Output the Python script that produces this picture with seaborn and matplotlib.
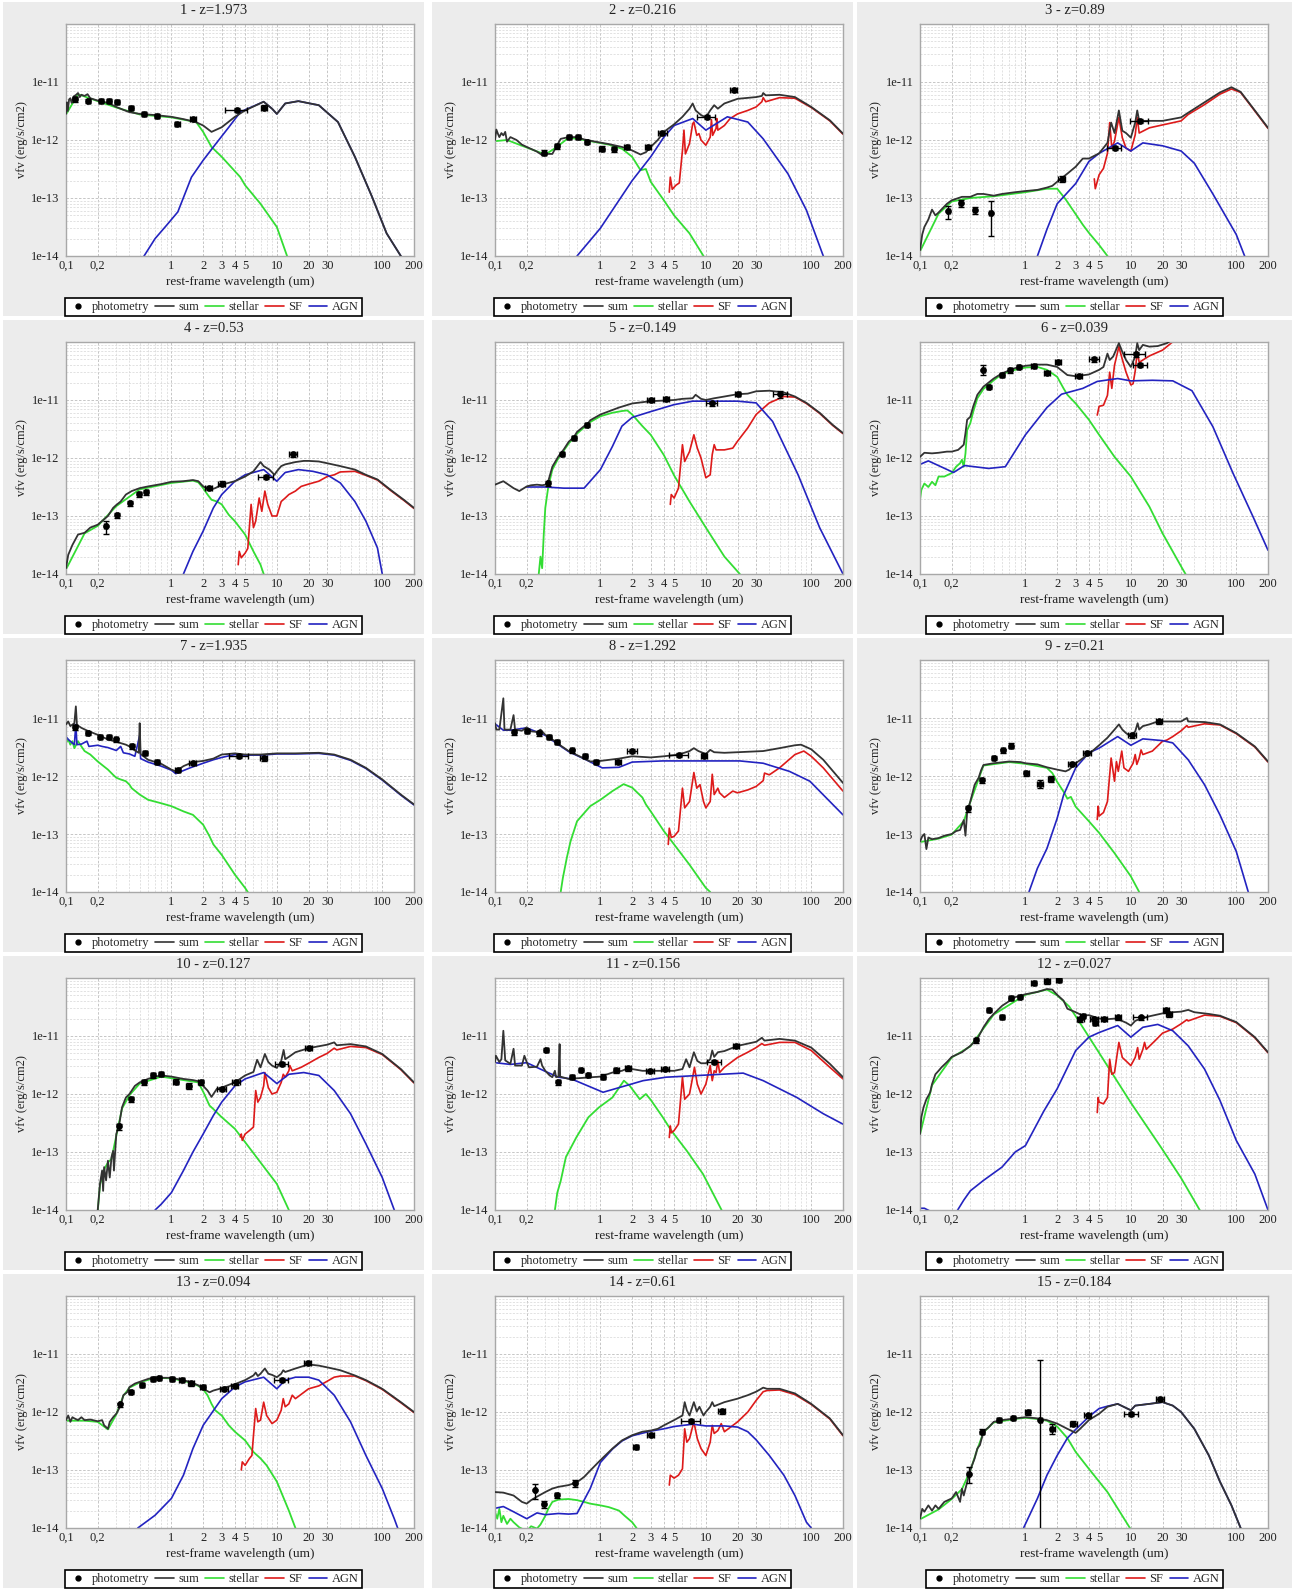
import numpy as np
import pandas as pd
import matplotlib
matplotlib.use("Agg")
import matplotlib.pyplot as plt
from matplotlib.lines import Line2D
from matplotlib.patches import Rectangle
from matplotlib.ticker import FixedLocator, FixedFormatter, NullFormatter, LogLocator
from matplotlib.transforms import Bbox, TransformedBbox
import seaborn as sns

sns.set_theme(style="white")
plt.rcParams["font.family"] = ["Liberation Serif", "DejaVu Serif"]

# ---------------------------------------------------------------------------
# Sources and redshifts
PANEL_IDS = list(range(1, 16))
REDSHIFTS = ["1.973", "0.216", "0.89", "0.53", "0.149", "0.039", "1.935", "1.292",
             "0.21", "0.127", "0.156", "0.027", "0.094", "0.61", "0.184"]

XTICKS = [0.1, 0.2, 1, 2, 3, 4, 5, 10, 20, 30, 100, 200]
XTICK_LABELS = ["0,1", "0,2", "1", "2", "3", "4", "5", "10", "20", "30", "100", "200"]
YTICKS = [1e-14, 1e-13, 1e-12, 1e-11]
YTICK_LABELS = ["1e-14", "1e-13", "1e-12", "1e-11"]
LEGEND_LABELS = ["photometry", "sum", "stellar", "SF", "AGN"]

# Model curves: (rest-frame wavelength [um], log10 vFv [erg/s/cm2])
# Photometry: (wavelength, log10 vFv, relative x error, relative y error)

# --- 1 ---------------------------------------------------------------------
P1_SUM = [(0.1, -11.55), (0.102, -11.35), (0.104, -11.5), (0.107, -11.3), (0.11, -11.28), (0.113, -11.36),
          (0.118, -11.25), (0.125, -11.22), (0.13, -11.19), (0.135, -11.26), (0.14, -11.22), (0.15, -11.24),
          (0.16, -11.21), (0.17, -11.28), (0.2, -11.32), (0.25, -11.36), (0.3, -11.43), (0.35, -11.48),
          (0.4, -11.52), (0.5, -11.55), (0.7, -11.57), (1.0, -11.6), (1.3, -11.64), (1.7, -11.69),
          (2.0, -11.75), (2.4, -11.86), (3.0, -11.78), (4.0, -11.6), (5.0, -11.49), (7.5, -11.34),
          (9.0, -11.46), (10, -11.55), (12, -11.37), (16, -11.33), (25, -11.4), (38, -11.69),
          (55, -12.29), (80, -12.98), (110, -13.61), (150, -14.0), (170, -14.3)]
P1_STELLAR = [(0.1, -11.56), (0.13, -11.21), (0.2, -11.33), (0.3, -11.44), (0.5, -11.56), (1.0, -11.61),
              (1.5, -11.67), (1.7, -11.68), (2.0, -11.86), (2.4, -12.12), (3.0, -12.29), (4.5, -12.64),
              (5.0, -12.78), (7.0, -13.1), (10, -13.5), (12.5, -14.0), (14, -14.2)]
P1_SF = []
P1_AGN = [(0.5, -14.1), (0.55, -14.0), (0.7, -13.7), (0.9, -13.47), (1.15, -13.24), (1.55, -12.64),
          (2.0, -12.35), (2.5, -12.12), (3.5, -11.78), (4.5, -11.52), (5.0, -11.48), (7.5, -11.34),
          (9.0, -11.46), (10, -11.55), (12, -11.37), (16, -11.33), (25, -11.4), (38, -11.69),
          (55, -12.29), (80, -12.98), (110, -13.61), (150, -14.0)]
P1_PHOT = [(0.122, -11.30, 0.04, 0.08), (0.163, -11.33, 0.04, 0.08), (0.214, -11.32, 0.04, 0.08),
           (0.257, -11.32, 0.04, 0.08), (0.304, -11.34, 0.04, 0.08), (0.413, -11.44, 0.04, 0.08),
           (0.553, -11.55, 0.04, 0.08), (0.73, -11.58, 0.04, 0.08), (1.14, -11.73, 0.05, 0.08),
           (1.6, -11.63, 0.07, 0.08), (4.2, -11.48, 0.23, 0.08), (7.6, -11.44, 0.07, 0.1)]

# --- 2 ---------------------------------------------------------------------
P2_SUM = [(0.1, -12.0), (0.103, -11.82), (0.107, -11.9), (0.11, -11.95), (0.115, -11.88), (0.12, -11.92),
          (0.125, -11.86), (0.13, -12.03), (0.14, -11.95), (0.16, -12.0), (0.18, -12.08), (0.2, -12.12),
          (0.25, -12.2), (0.28, -12.26), (0.3, -12.24), (0.35, -12.24), (0.38, -12.12), (0.42, -11.98),
          (0.5, -11.95), (0.6, -11.95), (0.7, -11.99), (0.9, -12.03), (1.2, -12.07), (1.6, -12.12),
          (2.0, -12.18), (2.4, -12.25), (2.7, -12.21), (3.0, -12.12), (3.5, -12.0), (4.0, -11.86),
          (5.0, -11.73), (6.0, -11.6), (7.0, -11.46), (7.5, -11.37), (8.0, -11.49), (9.0, -11.57),
          (10, -11.61), (11, -11.49), (12, -11.4), (13, -11.46), (15, -11.37), (20, -11.29), (30, -11.26),
          (34, -11.24), (35, -11.19), (37, -11.23), (50, -11.22), (70, -11.26), (100, -11.43),
          (150, -11.66), (200, -11.89)]
P2_STELLAR = [(0.1, -12.02), (0.13, -12.0), (0.2, -12.13), (0.3, -12.25), (0.38, -12.13), (0.5, -11.96),
              (0.7, -12.0), (1.2, -12.08), (1.6, -12.15), (2.0, -12.29), (2.4, -12.52), (2.7, -12.5),
              (3.0, -12.72), (4.0, -13.04), (5.0, -13.3), (7.0, -13.61), (9.5, -14.0), (11, -14.2)]
P2_SF = [(4.5, -12.9), (4.6, -12.64), (4.8, -12.85), (5.2, -12.78), (5.6, -12.74), (6.0, -12.18),
         (6.2, -11.83), (6.4, -12.24), (7.0, -12.06), (7.5, -11.72), (7.7, -11.69), (8.2, -11.92),
         (8.6, -11.89), (9.0, -12.0), (10, -12.09), (11, -11.95), (11.3, -11.65), (11.6, -11.92),
         (12.5, -11.8), (12.7, -11.63), (13, -11.83), (15, -11.75), (17, -11.63), (20, -11.55),
         (25, -11.49), (30, -11.43), (34, -11.34), (35, -11.27), (37, -11.34), (50, -11.27),
         (70, -11.28), (100, -11.44), (150, -11.67), (200, -11.9)]
P2_AGN = [(0.6, -14.0), (0.8, -13.73), (1.0, -13.52), (1.5, -13.04), (2.0, -12.7), (3.0, -12.29),
          (4.0, -11.95), (5.0, -11.75), (7.5, -11.63), (10, -11.83), (16, -11.6), (25, -11.69),
          (35, -11.98), (60, -12.58), (90, -13.21), (130, -14.0), (150, -14.3)]
P2_PHOT = [(0.292, -12.22, 0.04, 0.1), (0.385, -12.11, 0.04, 0.1), (0.506, -11.95, 0.04, 0.08),
           (0.614, -11.95, 0.04, 0.08), (0.741, -12.03, 0.04, 0.08), (1.03, -12.15, 0.05, 0.1),
           (1.35, -12.16, 0.05, 0.1), (1.77, -12.12, 0.06, 0.08), (2.85, -12.12, 0.07, 0.08),
           (3.87, -11.88, 0.1, 0.08), (10.2, -11.6, 0.2, 0.08), (18.3, -11.14, 0.07, 0.08)]

# --- 3 ---------------------------------------------------------------------
P3_SUM = [(0.1, -13.9), (0.105, -13.63), (0.11, -13.5), (0.12, -13.37), (0.13, -13.2), (0.14, -13.3),
          (0.15, -13.25), (0.18, -13.1), (0.2, -13.04), (0.25, -12.98), (0.3, -12.98), (0.35, -12.93),
          (0.4, -12.93), (0.5, -12.96), (0.6, -12.93), (0.8, -12.9), (1.0, -12.88), (1.3, -12.86),
          (1.6, -12.82), (1.8, -12.79), (2.0, -12.72), (2.5, -12.58), (3.0, -12.46), (3.5, -12.32),
          (4.0, -12.32), (5.0, -12.23), (6.0, -12.05), (6.5, -11.7), (7.0, -11.88), (7.7, -11.49),
          (8.3, -11.84), (9.0, -11.88), (10, -11.96), (11, -11.7), (11.5, -11.49), (12, -11.67),
          (15, -11.67), (20, -11.67), (30, -11.61), (35, -11.53), (50, -11.35), (70, -11.18),
          (90, -11.09), (110, -11.17), (150, -11.49), (200, -11.79)]
P3_STELLAR = [(0.1, -13.92), (0.15, -13.27), (0.2, -13.06), (0.3, -13.0), (0.5, -12.97), (1.0, -12.9),
              (1.6, -12.84), (2.0, -12.84), (2.4, -13.02), (3.0, -13.28), (3.5, -13.46), (4.0, -13.6),
              (5.0, -13.81), (6.0, -14.0), (7.0, -14.2)]
P3_SF = [(4.5, -12.67), (4.6, -12.84), (5.0, -12.6), (5.5, -12.49), (6.0, -12.23), (6.3, -11.7),
         (6.6, -12.14), (7.0, -12.02), (7.7, -11.61), (8.3, -11.96), (9.0, -12.14), (10, -12.19),
         (11, -11.91), (11.5, -11.61), (12, -11.88), (15, -11.79), (20, -11.74), (30, -11.67),
         (35, -11.56), (50, -11.39), (70, -11.21), (90, -11.12), (110, -11.18), (150, -11.5), (200, -11.8)]
P3_AGN = [(1.3, -14.0), (1.6, -13.54), (2.0, -13.1), (3.0, -12.75), (4.0, -12.37), (5.0, -12.23),
          (7.5, -12.05), (10, -12.19), (13, -12.05), (20, -12.1), (30, -12.19), (40, -12.4),
          (60, -12.93), (100, -13.63), (120, -14.0), (140, -14.3)]
P3_PHOT = [(0.186, -13.23, 0.04, 0.25), (0.243, -13.09, 0.04, 0.15), (0.33, -13.21, 0.04, 0.15),
           (0.47, -13.25, 0.03, 0.6), (2.2, -12.67, 0.07, 0.1), (7.0, -12.14, 0.15, 0.08),
           (12.2, -11.67, 0.2, 0.08)]

# --- 4 ---------------------------------------------------------------------
P4_SUM = [(0.1, -13.9), (0.105, -13.67), (0.115, -13.5), (0.13, -13.32), (0.15, -13.29), (0.17, -13.2),
          (0.2, -13.15), (0.25, -13.0), (0.28, -12.86), (0.3, -12.81), (0.33, -12.75), (0.37, -12.63),
          (0.42, -12.57), (0.5, -12.52), (0.6, -12.49), (0.8, -12.45), (1.0, -12.41), (1.3, -12.4),
          (1.6, -12.38), (1.8, -12.4), (2.0, -12.49), (2.3, -12.55), (2.6, -12.52), (3.0, -12.46),
          (4.0, -12.4), (5.0, -12.32), (6.0, -12.23), (7.0, -12.07), (7.5, -12.14), (8.5, -12.2),
          (9.5, -12.29), (10, -12.23), (11, -12.14), (12, -12.11), (15, -12.07), (18, -12.05),
          (20, -12.05), (25, -12.06), (30, -12.09), (40, -12.14), (55, -12.2), (70, -12.29),
          (90, -12.37), (120, -12.55), (160, -12.72), (200, -12.86)]
P4_STELLAR = [(0.1, -13.92), (0.15, -13.3), (0.2, -13.17), (0.3, -12.83), (0.5, -12.54), (1.0, -12.43),
              (1.6, -12.39), (1.8, -12.42), (2.0, -12.52), (2.2, -12.63), (2.4, -12.72), (2.7, -12.75),
              (3.0, -12.8), (3.5, -12.98), (4.0, -13.09), (5.0, -13.32), (6.0, -13.61), (7.0, -13.84),
              (7.5, -14.0), (8.0, -14.2)]
P4_SF = [(4.3, -13.84), (4.4, -13.61), (4.6, -13.72), (5.0, -13.64), (5.3, -13.56), (5.7, -12.8),
         (6.0, -13.2), (6.3, -13.09), (6.8, -12.69), (7.2, -12.92), (7.7, -12.57), (8.2, -12.8),
         (9.0, -13.0), (10, -13.0), (11, -12.75), (12, -12.69), (13, -12.63), (15, -12.57), (17, -12.49),
         (20, -12.45), (25, -12.4), (30, -12.32), (35, -12.29), (40, -12.24), (55, -12.23), (70, -12.3),
         (90, -12.38), (120, -12.56), (160, -12.73), (200, -12.87)]
P4_AGN = [(1.3, -14.0), (1.6, -13.61), (2.0, -13.26), (2.5, -12.86), (3.0, -12.63), (4.0, -12.4),
          (5.0, -12.29), (7.5, -12.2), (10, -12.4), (12, -12.25), (16, -12.2), (22, -12.23), (30, -12.29),
          (40, -12.43), (55, -12.75), (70, -13.09), (90, -13.55), (100, -14.0), (110, -14.3)]
P4_PHOT = [(0.237, -13.18, 0.03, 0.25), (0.304, -12.99, 0.03, 0.08), (0.405, -12.78, 0.03, 0.1),
           (0.497, -12.62, 0.04, 0.1), (0.58, -12.59, 0.04, 0.1), (2.25, -12.52, 0.07, 0.08),
           (3.0, -12.44, 0.08, 0.1), (7.9, -12.33, 0.17, 0.08), (14.3, -11.93, 0.08, 0.1)]

# --- 5 ---------------------------------------------------------------------
P5_SUM = [(0.1, -12.46), (0.12, -12.4), (0.15, -12.52), (0.17, -12.57), (0.2, -12.49), (0.22, -12.47),
          (0.25, -12.46), (0.28, -12.47), (0.3, -12.46), (0.32, -12.4), (0.35, -12.15), (0.4, -11.97),
          (0.45, -11.85), (0.5, -11.72), (0.56, -11.64), (0.6, -11.55), (0.7, -11.45), (0.75, -11.42),
          (0.8, -11.35), (1.0, -11.25), (1.5, -11.13), (2.0, -11.06), (3.0, -11.02), (4.0, -11.01),
          (5.0, -11.0), (6.0, -10.98), (7.5, -10.97), (8.0, -10.91), (9.0, -10.98), (10, -11.0),
          (12, -10.97), (15, -10.94), (20, -10.9), (25, -10.89), (30, -10.85), (40, -10.84),
          (55, -10.87), (70, -10.94), (90, -11.05), (120, -11.22), (160, -11.43), (200, -11.57)]
P5_STELLAR = [(0.26, -14.0), (0.27, -13.7), (0.28, -13.9), (0.29, -13.32), (0.3, -12.86), (0.32, -12.5),
              (0.35, -12.2), (0.4, -12.0), (0.45, -11.87), (0.5, -11.75), (0.6, -11.58), (0.8, -11.38),
              (1.0, -11.28), (1.3, -11.22), (1.6, -11.19), (1.8, -11.18), (2.0, -11.25), (2.5, -11.45),
              (3.0, -11.6), (4.0, -11.95), (5.0, -12.3), (7.0, -12.75), (10, -13.2), (15, -13.7),
              (21, -14.0), (23, -14.2)]
P5_SF = [(4.6, -12.8), (4.7, -12.63), (5.0, -12.69), (5.5, -12.52), (6.0, -11.77), (6.3, -12.06),
         (7.0, -11.89), (7.7, -11.6), (8.3, -11.83), (9.0, -12.0), (10, -12.34), (11, -12.29),
         (11.5, -11.94), (12, -11.77), (12.5, -11.86), (15, -11.86), (18, -11.83), (20, -11.71),
         (25, -11.48), (30, -11.25), (40, -11.05), (55, -10.94), (70, -10.95), (90, -11.06),
         (120, -11.23), (160, -11.44), (200, -11.58)]
P5_AGN = [(0.2, -12.5), (0.3, -12.5), (0.45, -12.52), (0.7, -12.52), (1.0, -12.2), (1.3, -11.8),
          (1.6, -11.45), (2.0, -11.3), (3.0, -11.2), (5.0, -11.08), (7.5, -11.02), (10, -11.02),
          (15, -11.02), (20, -11.02), (30, -11.05), (43, -11.37), (75, -12.29), (120, -13.2), (200, -14.0)]
P5_PHOT = [(0.318, -12.43, 0.03, 0.1), (0.436, -11.93, 0.03, 0.08), (0.56, -11.66, 0.04, 0.08),
           (0.74, -11.43, 0.04, 0.08), (2.99, -11.0, 0.07, 0.08), (4.2, -10.98, 0.07, 0.08),
           (11.4, -11.06, 0.12, 0.08), (20, -10.9, 0.06, 0.08), (51, -10.9, 0.15, 0.15)]

# --- 6 ---------------------------------------------------------------------
P6_SUM = [(0.1, -11.98), (0.11, -11.91), (0.13, -11.92), (0.15, -11.91), (0.18, -11.89), (0.2, -11.89),
          (0.23, -11.86), (0.25, -11.8), (0.26, -11.77), (0.27, -11.57), (0.28, -11.34), (0.3, -11.29),
          (0.32, -11.11), (0.35, -10.91), (0.4, -10.77), (0.5, -10.63), (0.6, -10.54), (0.8, -10.45),
          (1.0, -10.41), (1.3, -10.39), (1.6, -10.39), (2.0, -10.43), (2.5, -10.57), (3.0, -10.59),
          (4.0, -10.56), (5.0, -10.48), (5.5, -10.43), (6.0, -10.2), (6.3, -10.31), (6.8, -10.25),
          (7.7, -10.02), (8.3, -10.17), (9.0, -10.31), (10, -10.43), (11, -10.25), (11.5, -10.02),
          (12, -10.14), (13, -10.05), (15, -10.08), (18, -10.07), (22, -10.02), (30, -9.85),
          (50, -9.67), (100, -9.7), (200, -9.97)]
P6_STELLAR = [(0.1, -12.72), (0.103, -12.55), (0.11, -12.44), (0.12, -12.5), (0.13, -12.41), (0.14, -12.47),
              (0.15, -12.32), (0.17, -12.32), (0.2, -12.26), (0.22, -12.15), (0.24, -12.09), (0.25, -12.03),
              (0.26, -12.15), (0.27, -11.92), (0.28, -11.52), (0.3, -11.4), (0.32, -11.2), (0.35, -10.97),
              (0.4, -10.81), (0.5, -10.66), (0.6, -10.55), (0.8, -10.48), (1.0, -10.44), (1.3, -10.43),
              (1.6, -10.48), (2.0, -10.6), (2.3, -10.8), (2.5, -10.91), (3.0, -11.06), (4.0, -11.34),
              (5.0, -11.6), (7.0, -11.98), (10, -12.32), (15, -12.84), (20, -13.3), (30, -13.87),
              (33, -14.0), (36, -14.2)]
P6_SF = [(4.8, -11.26), (5.0, -11.11), (5.5, -11.09), (6.0, -10.92), (6.3, -10.52), (6.6, -10.8),
         (7.0, -10.4), (7.7, -10.08), (8.3, -10.3), (9.0, -10.52), (10, -10.74), (10.5, -10.72),
         (11, -10.5), (11.5, -10.17), (12, -10.35), (15, -10.24), (20, -10.14), (23, -10.05),
         (30, -9.88), (50, -9.7), (100, -9.72), (200, -9.98)]
P6_AGN = [(0.1, -12.11), (0.12, -12.05), (0.208, -12.25), (0.264, -12.13), (0.448, -12.18), (0.645, -12.15),
          (1.0, -11.6), (1.6, -11.13), (2.2, -10.9), (3.5, -10.8), (4.8, -10.68), (7.5, -10.63),
          (10, -10.67), (16, -10.66), (25, -10.67), (38, -10.84), (60, -11.46), (93, -12.26),
          (144, -13.01), (200, -13.59)]
P6_PHOT = [(0.4, -10.48, 0.03, 0.2), (0.45, -10.77, 0.03, 0.08), (0.6, -10.57, 0.04, 0.08),
           (0.72, -10.49, 0.04, 0.08), (0.86, -10.43, 0.04, 0.08), (1.2, -10.41, 0.05, 0.08),
           (1.6, -10.54, 0.06, 0.08), (2.05, -10.34, 0.06, 0.08), (3.2, -10.59, 0.08, 0.08),
           (4.5, -10.3, 0.1, 0.08), (11.1, -10.21, 0.22, 0.1), (12.3, -10.39, 0.15, 0.08)]

# --- 7 ---------------------------------------------------------------------
P7_SUM = [(0.1, -11.11), (0.105, -11.06), (0.11, -11.14), (0.12, -11.09), (0.124, -10.8), (0.127, -11.12),
          (0.14, -11.17), (0.16, -11.22), (0.2, -11.29), (0.25, -11.37), (0.3, -11.41), (0.37, -11.46),
          (0.4, -11.49), (0.45, -11.56), (0.49, -11.6), (0.5, -11.09), (0.51, -11.62), (0.6, -11.72),
          (0.8, -11.79), (1.0, -11.89), (1.1, -11.92), (1.3, -11.83), (1.6, -11.76), (2.0, -11.74),
          (2.5, -11.7), (3.0, -11.63), (4.0, -11.61), (5.0, -11.63), (7.0, -11.63), (10, -11.61),
          (15, -11.61), (25, -11.6), (35, -11.63), (50, -11.72), (70, -11.86), (100, -12.06),
          (150, -12.32), (200, -12.49)]
P7_STELLAR = [(0.1, -11.43), (0.105, -11.37), (0.11, -11.46), (0.115, -11.4), (0.12, -11.52), (0.13, -11.4),
              (0.14, -11.49), (0.15, -11.57), (0.17, -11.63), (0.2, -11.75), (0.25, -11.89), (0.28, -11.98),
              (0.3, -12.03), (0.33, -12.06), (0.37, -12.09), (0.4, -12.15), (0.42, -12.21), (0.5, -12.32),
              (0.6, -12.41), (0.8, -12.47), (1.0, -12.52), (1.3, -12.61), (1.6, -12.67), (2.0, -12.84),
              (2.3, -13.04), (2.5, -13.18), (3.0, -13.36), (4.0, -13.7), (5.0, -13.93), (5.3, -14.0),
              (6.0, -14.2)]
P7_SF = []
P7_AGN = [(0.1, -11.32), (0.105, -11.37), (0.12, -11.46), (0.124, -11.11), (0.127, -11.46), (0.14, -11.45),
          (0.158, -11.4), (0.165, -11.49), (0.2, -11.47), (0.22, -11.49), (0.25, -11.51), (0.3, -11.56),
          (0.33, -11.49), (0.35, -11.6), (0.4, -11.62), (0.45, -11.66), (0.5, -11.3), (0.51, -11.7),
          (0.6, -11.76), (0.8, -11.83), (1.0, -11.9), (1.1, -11.96), (1.5, -11.86), (2.0, -11.78),
          (2.5, -11.72), (3.0, -11.68), (4.0, -11.63), (5.0, -11.64), (7.0, -11.64), (10, -11.62),
          (15, -11.62), (25, -11.61), (35, -11.64), (50, -11.73), (70, -11.87), (100, -12.07),
          (150, -12.33), (200, -12.5)]
P7_PHOT = [(0.121, -11.16, 0.04, 0.1), (0.16, -11.25, 0.04, 0.08), (0.212, -11.32, 0.04, 0.08),
           (0.256, -11.33, 0.04, 0.08), (0.3, -11.37, 0.04, 0.08), (0.42, -11.49, 0.04, 0.08),
           (0.566, -11.61, 0.04, 0.08), (0.73, -11.75, 0.04, 0.08), (1.15, -11.9, 0.05, 0.08),
           (1.6, -11.78, 0.08, 0.08), (4.4, -11.65, 0.2, 0.08), (7.5, -11.69, 0.07, 0.1)]

# --- 8 ---------------------------------------------------------------------
P8_SUM = [(0.1, -11.09), (0.103, -11.2), (0.11, -11.2), (0.12, -10.66), (0.123, -11.2), (0.14, -11.2),
          (0.15, -10.95), (0.155, -11.2), (0.18, -11.22), (0.2, -11.16), (0.22, -11.23), (0.25, -11.24),
          (0.27, -11.2), (0.3, -11.29), (0.35, -11.37), (0.4, -11.45), (0.5, -11.57), (0.6, -11.64),
          (0.8, -11.75), (1.0, -11.74), (1.5, -11.7), (2.0, -11.66), (3.0, -11.68), (4.0, -11.66),
          (5.0, -11.64), (6.0, -11.61), (7.0, -11.57), (7.7, -11.52), (8.5, -11.57), (10, -11.62),
          (11, -11.55), (12, -11.59), (15, -11.6), (20, -11.59), (35, -11.57), (50, -11.52),
          (70, -11.47), (80, -11.46), (100, -11.54), (130, -11.72), (200, -12.12)]
P8_STELLAR = [(0.42, -14.0), (0.44, -13.76), (0.48, -13.41), (0.52, -13.13), (0.6, -12.78), (0.8, -12.52),
              (1.0, -12.41), (1.3, -12.26), (1.66, -12.14), (2.0, -12.2), (2.5, -12.37), (2.7, -12.49),
              (3.0, -12.61), (4.0, -12.95), (5.0, -13.18), (7.0, -13.53), (10, -13.93), (11, -14.0),
              (12, -14.2)]
P8_SF = [(4.4, -13.18), (4.5, -12.9), (4.7, -13.06), (5.0, -13.04), (5.5, -12.95), (6.0, -12.21),
         (6.3, -12.55), (7.0, -12.44), (7.7, -11.94), (8.2, -12.21), (8.8, -12.15), (9.5, -12.44),
         (10, -12.55), (11, -12.44), (11.5, -11.97), (12, -12.32), (13, -12.21), (13.5, -12.29),
         (15, -12.37), (18, -12.26), (20, -12.29), (25, -12.24), (30, -12.18), (35, -12.08),
         (36, -11.95), (40, -11.98), (50, -11.86), (70, -11.63), (85, -11.57), (100, -11.66),
         (130, -11.86), (200, -12.26)]
P8_AGN = [(0.1, -11.1), (0.12, -11.21), (0.14, -11.21), (0.2, -11.17), (0.3, -11.3), (0.4, -11.46),
          (0.5, -11.58), (0.73, -11.72), (1.04, -11.86), (1.5, -11.85), (2.0, -11.76), (3.9, -11.74),
          (21, -11.74), (35, -11.78), (62, -11.92), (97, -12.09), (200, -12.67)]
P8_PHOT = [(0.153, -11.24, 0.04, 0.1), (0.2, -11.22, 0.04, 0.08), (0.264, -11.26, 0.04, 0.1),
           (0.324, -11.32, 0.04, 0.08), (0.39, -11.42, 0.04, 0.08), (0.54, -11.56, 0.04, 0.08),
           (0.71, -11.66, 0.04, 0.08), (0.91, -11.76, 0.05, 0.08), (1.47, -11.75, 0.07, 0.08),
           (2.0, -11.57, 0.1, 0.08), (5.6, -11.64, 0.2, 0.08), (9.6, -11.65, 0.07, 0.1)]

# --- 9 ---------------------------------------------------------------------
P9_SUM = [(0.1, -13.13), (0.105, -13.04), (0.11, -13.0), (0.115, -13.26), (0.12, -13.06), (0.13, -13.09),
          (0.15, -13.07), (0.17, -13.03), (0.2, -13.0), (0.22, -12.95), (0.24, -12.93), (0.26, -12.76),
          (0.27, -13.03), (0.28, -12.62), (0.3, -12.44), (0.33, -12.15), (0.36, -12.03), (0.38, -11.9),
          (0.4, -11.81), (0.5, -11.78), (0.7, -11.75), (0.9, -11.76), (1.0, -11.78), (1.3, -11.8),
          (1.6, -11.85), (2.0, -11.89), (2.4, -11.92), (2.6, -11.89), (3.0, -11.78), (4.0, -11.62),
          (5.0, -11.47), (6.0, -11.34), (7.0, -11.2), (7.7, -11.11), (8.3, -11.2), (9.0, -11.26),
          (10, -11.32), (11, -11.23), (11.6, -11.09), (12, -11.2), (13, -11.14), (15, -11.11),
          (18, -11.06), (25, -11.06), (30, -11.06), (34, -11.0), (35, -11.06), (50, -11.07),
          (70, -11.11), (100, -11.26), (150, -11.49), (200, -11.75)]
P9_STELLAR = [(0.1, -13.14), (0.15, -13.08), (0.2, -13.01), (0.26, -12.78), (0.3, -12.45), (0.4, -11.82),
              (0.7, -11.76), (1.0, -11.79), (1.6, -11.86), (1.8, -11.95), (2.0, -12.1), (2.3, -12.27),
              (2.5, -12.39), (2.7, -12.36), (3.0, -12.53), (4.0, -12.78), (5.0, -12.98), (7.0, -13.33),
              (10, -13.73), (12, -14.0), (13, -14.2)]
P9_SF = [(4.8, -12.75), (4.9, -12.52), (5.0, -12.69), (5.5, -12.63), (6.0, -12.44), (6.5, -11.69),
         (7.0, -12.09), (7.3, -11.75), (7.6, -11.92), (8.2, -11.57), (8.6, -11.86), (9.5, -11.92),
         (10.5, -11.78), (11, -11.63), (11.4, -11.8), (12, -11.69), (12.5, -11.55), (13, -11.63),
         (16, -11.57), (20, -11.4), (22, -11.38), (25, -11.32), (30, -11.22), (34, -11.13),
         (35, -11.16), (50, -11.1), (70, -11.12), (100, -11.27), (150, -11.5), (200, -11.76)]
P9_AGN = [(1.08, -14.0), (1.3, -13.59), (1.6, -13.25), (2.0, -12.73), (2.3, -12.33), (3.0, -11.86),
          (4.0, -11.6), (5.0, -11.52), (7.5, -11.32), (10, -11.47), (13, -11.36), (20, -11.39),
          (25, -11.43), (35, -11.72), (50, -12.15), (70, -12.67), (100, -13.3), (130, -14.0), (150, -14.3)]
P9_PHOT = [(0.288, -12.56, 0.03, 0.12), (0.386, -12.07, 0.03, 0.1), (0.5, -11.69, 0.04, 0.08),
           (0.612, -11.56, 0.04, 0.08), (0.735, -11.48, 0.04, 0.1), (1.02, -11.95, 0.05, 0.1),
           (1.37, -12.13, 0.07, 0.17), (1.73, -12.05, 0.06, 0.12), (2.78, -11.79, 0.08, 0.08),
           (3.86, -11.61, 0.09, 0.08), (10.3, -11.3, 0.08, 0.08), (18.6, -11.06, 0.07, 0.08)]

# --- 10 --------------------------------------------------------------------
P10_SUM = [(0.19, -14.2), (0.2, -14.0), (0.21, -13.55), (0.22, -13.32), (0.225, -13.67), (0.23, -13.26),
           (0.24, -13.49), (0.25, -13.15), (0.26, -13.44), (0.27, -13.09), (0.28, -12.98), (0.285, -13.32),
           (0.3, -12.69), (0.32, -12.52), (0.34, -12.23), (0.37, -12.06), (0.4, -12.0), (0.45, -11.86),
           (0.5, -11.8), (0.6, -11.74), (0.7, -11.7), (0.8, -11.68), (1.0, -11.7), (1.3, -11.74),
           (1.6, -11.76), (1.8, -11.78), (2.0, -11.86), (2.2, -11.94), (2.4, -12.05), (2.7, -11.91),
           (3.0, -11.89), (4.0, -11.8), (5.0, -11.68), (6.0, -11.62), (6.5, -11.41), (7.0, -11.54),
           (7.7, -11.31), (8.3, -11.45), (9.0, -11.51), (10, -11.55), (11, -11.43), (11.6, -11.24),
           (12, -11.4), (13, -11.36), (15, -11.28), (20, -11.21), (30, -11.15), (35, -11.11),
           (37, -11.16), (50, -11.14), (70, -11.18), (100, -11.31), (150, -11.57), (200, -11.8)]
P10_STELLAR = [(0.19, -14.2), (0.2, -14.02), (0.21, -13.57), (0.23, -13.3), (0.25, -13.18), (0.27, -13.12),
               (0.3, -12.72), (0.34, -12.25), (0.4, -12.02), (0.5, -11.82), (0.8, -11.7), (1.3, -11.76),
               (1.8, -11.8), (2.0, -11.96), (2.3, -12.2), (2.5, -12.26), (3.0, -12.4), (4.0, -12.6),
               (5.0, -12.83), (7.0, -13.18), (10, -13.55), (13, -14.0), (14, -14.2)]
P10_SF = [(4.5, -12.74), (4.6, -12.69), (4.7, -12.8), (5.0, -12.69), (5.5, -12.63), (6.0, -12.57),
          (6.3, -11.94), (6.6, -12.14), (7.0, -12.06), (7.5, -11.86), (7.7, -11.63), (8.3, -11.89),
          (9.0, -12.0), (10, -11.97), (11, -11.8), (11.5, -11.66), (12, -11.71), (13, -11.6),
          (13.3, -11.51), (14, -11.6), (17, -11.54), (20, -11.47), (25, -11.37), (30, -11.3),
          (35, -11.21), (37, -11.24), (50, -11.18), (70, -11.2), (100, -11.32), (150, -11.58), (200, -11.81)]
P10_AGN = [(0.7, -14.0), (0.8, -13.9), (1.0, -13.7), (1.3, -13.32), (1.6, -13.0), (2.0, -12.69),
           (2.5, -12.37), (3.0, -12.14), (4.0, -11.86), (5.0, -11.74), (7.5, -11.63), (10, -11.82),
           (13, -11.66), (18, -11.63), (25, -11.68), (35, -11.94), (50, -12.34), (70, -12.86),
           (100, -13.44), (130, -14.0), (150, -14.3)]
P10_PHOT = [(0.316, -12.56, 0.03, 0.12), (0.417, -12.09, 0.03, 0.1), (0.55, -11.8, 0.04, 0.08),
            (0.67, -11.68, 0.04, 0.1), (0.8, -11.66, 0.04, 0.08), (1.1, -11.79, 0.05, 0.1),
            (1.46, -11.86, 0.06, 0.1), (1.9, -11.8, 0.06, 0.1), (3.0, -11.91, 0.1, 0.08),
            (4.1, -11.8, 0.08, 0.08), (11.2, -11.48, 0.15, 0.08), (20, -11.2, 0.07, 0.08)]

# --- 11 --------------------------------------------------------------------
P11_SUM = [(0.1, -11.45), (0.102, -11.34), (0.11, -11.45), (0.115, -11.4), (0.12, -10.91), (0.125, -11.42),
           (0.14, -11.48), (0.15, -11.22), (0.155, -11.51), (0.18, -11.51), (0.19, -11.34), (0.2, -11.45),
           (0.21, -11.54), (0.25, -11.53), (0.27, -11.4), (0.28, -11.51), (0.3, -11.6), (0.33, -11.68),
           (0.35, -11.71), (0.37, -11.6), (0.38, -11.71), (0.4, -11.7), (0.41, -11.14), (0.415, -11.7),
           (0.5, -11.74), (0.7, -11.72), (1.0, -11.7), (1.3, -11.63), (1.6, -11.6), (1.8, -11.56),
           (2.0, -11.57), (2.5, -11.6), (3.0, -11.6), (4.0, -11.6), (5.0, -11.6), (6.0, -11.57),
           (6.5, -11.4), (7.0, -11.54), (7.7, -11.28), (8.3, -11.43), (9.0, -11.47), (10, -11.47),
           (11, -11.4), (11.5, -11.25), (12, -11.36), (13, -11.28), (15, -11.26), (20, -11.17),
           (30, -11.1), (34, -11.03), (36, -11.08), (50, -11.05), (70, -11.08), (100, -11.2),
           (150, -11.48), (200, -11.71)]
P11_STELLAR = [(0.37, -14.0), (0.39, -13.7), (0.42, -13.5), (0.47, -13.09), (0.59, -12.75), (0.77, -12.4),
               (0.97, -12.23), (1.3, -12.06), (1.67, -11.77), (1.9, -11.86), (2.36, -12.09), (2.7, -12.0),
               (3.0, -12.1), (3.9, -12.4), (4.7, -12.63), (6.6, -12.98), (9.4, -13.38), (14.1, -14.0),
               (15, -14.2)]
P11_SF = [(4.5, -12.75), (4.6, -12.55), (4.7, -12.67), (5.0, -12.63), (5.5, -12.52), (6.0, -11.71),
          (6.3, -12.09), (7.0, -12.0), (7.5, -11.71), (7.8, -11.54), (8.3, -11.83), (9.0, -12.0),
          (10, -11.83), (11, -11.51), (11.5, -11.77), (12, -11.6), (12.5, -11.63), (13, -11.43),
          (13.5, -11.63), (15, -11.54), (20, -11.37), (25, -11.28), (30, -11.2), (34, -11.13),
          (36, -11.16), (50, -11.11), (70, -11.11), (100, -11.25), (150, -11.54), (200, -11.74)]
P11_AGN = [(0.1, -11.46), (0.14, -11.49), (0.2, -11.46), (0.3, -11.61), (0.4, -11.71), (0.53, -11.74),
           (1.06, -11.97), (2.54, -11.77), (4.2, -11.71), (22.6, -11.64), (35, -11.77), (73, -12.06),
           (130, -12.34), (200, -12.52)]
P11_PHOT = [(0.306, -11.24, 0.03, 0.08), (0.4, -11.8, 0.03, 0.08), (0.535, -11.7, 0.04, 0.08),
            (0.65, -11.59, 0.04, 0.08), (0.77, -11.67, 0.04, 0.08), (1.06, -11.7, 0.05, 0.1),
            (1.42, -11.59, 0.06, 0.1), (1.83, -11.56, 0.06, 0.1), (2.96, -11.6, 0.08, 0.08),
            (4.1, -11.57, 0.09, 0.08), (12, -11.44, 0.15, 0.08), (19.3, -11.17, 0.07, 0.08)]

# --- 12 --------------------------------------------------------------------
P12_SUM = [(0.1, -12.69), (0.103, -12.4), (0.108, -12.23), (0.115, -12.09), (0.12, -12.03), (0.125, -11.97),
           (0.13, -11.83), (0.14, -11.66), (0.15, -11.6), (0.16, -11.54), (0.18, -11.45), (0.2, -11.36),
           (0.25, -11.28), (0.3, -11.17), (0.35, -11.05), (0.4, -10.85), (0.45, -10.71), (0.5, -10.62),
           (0.6, -10.48), (0.8, -10.33), (1.0, -10.28), (1.3, -10.24), (1.6, -10.19), (1.8, -10.2),
           (2.0, -10.29), (2.3, -10.39), (2.5, -10.53), (3.0, -10.59), (3.5, -10.65), (4.0, -10.64),
           (5.0, -10.7), (6.0, -10.71), (7.0, -10.7), (8.0, -10.73), (9.0, -10.77), (10, -10.82),
           (11, -10.74), (12, -10.71), (15, -10.66), (20, -10.61), (25, -10.59), (30, -10.58),
           (35, -10.55), (40, -10.59), (55, -10.62), (70, -10.65), (100, -10.76), (150, -11.02),
           (200, -11.28)]
P12_STELLAR = [(0.1, -12.7), (0.13, -11.85), (0.2, -11.37), (0.3, -11.18), (0.5, -10.63), (1.0, -10.29),
               (1.6, -10.2), (2.0, -10.3), (2.3, -10.4), (2.6, -10.49), (3.0, -10.66), (5.0, -11.29),
               (10, -12.15), (20, -12.96), (30, -13.45), (45, -14.0), (50, -14.2)]
P12_SF = [(4.8, -12.32), (4.9, -12.06), (5.0, -12.14), (5.5, -12.17), (6.0, -12.06), (6.3, -11.4),
          (6.6, -11.66), (7.0, -11.63), (7.7, -11.11), (8.3, -11.37), (9.0, -11.43), (10, -11.51),
          (11, -11.37), (11.6, -11.2), (12, -11.4), (13, -11.23), (13.5, -11.11), (14, -11.23),
          (17, -11.08), (20, -10.95), (25, -10.88), (30, -10.79), (34, -10.72), (35, -10.74),
          (50, -10.64), (70, -10.66), (100, -10.77), (150, -11.03), (200, -11.29)]
P12_AGN = [(0.1, -13.97), (0.11, -13.97), (0.125, -14.02), (0.18, -14.3), (0.26, -13.83), (0.3, -13.67),
           (0.4, -13.49), (0.6, -13.26), (0.8, -13.0), (1.0, -12.89), (1.5, -12.29), (2.0, -11.91),
           (3.0, -11.25), (4.0, -11.02), (5.0, -10.94), (7.5, -10.82), (10, -11.02), (13, -10.85),
           (18, -10.8), (25, -10.91), (35, -11.17), (50, -11.57), (70, -12.11), (100, -12.8),
           (150, -13.38), (200, -14.0)]
P12_PHOT = [(0.34, -11.07, 0.03, 0.1), (0.45, -10.55, 0.03, 0.08), (0.6, -10.67, 0.04, 0.08),
            (0.73, -10.35, 0.04, 0.08), (0.88, -10.32, 0.04, 0.08), (1.2, -10.08, 0.06, 0.08),
            (1.6, -10.06, 0.07, 0.1), (2.07, -10.03, 0.06, 0.08), (3.33, -10.71, 0.08, 0.1),
            (3.5, -10.66, 0.05, 0.08), (4.5, -10.71, 0.08, 0.08), (4.6, -10.77, 0.05, 0.08),
            (5.6, -10.7, 0.06, 0.08), (7.6, -10.68, 0.07, 0.08), (12.4, -10.68, 0.15, 0.08),
            (21.5, -10.56, 0.07, 0.1), (23, -10.62, 0.07, 0.1)]

# --- 13 --------------------------------------------------------------------
P13_SUM = [(0.1, -12.14), (0.105, -12.06), (0.11, -12.17), (0.115, -12.09), (0.12, -12.11), (0.13, -12.14),
           (0.14, -12.09), (0.15, -12.14), (0.17, -12.13), (0.2, -12.16), (0.22, -12.14), (0.23, -12.23),
           (0.25, -12.29), (0.26, -12.17), (0.28, -12.09), (0.3, -12.03), (0.33, -11.89), (0.35, -11.71),
           (0.38, -11.66), (0.4, -11.57), (0.45, -11.51), (0.5, -11.48), (0.6, -11.43), (0.7, -11.4),
           (0.8, -11.41), (1.0, -11.41), (1.2, -11.44), (1.5, -11.48), (1.8, -11.54), (2.0, -11.6),
           (2.3, -11.66), (2.5, -11.63), (3.0, -11.59), (3.5, -11.56), (4.0, -11.52), (5.0, -11.45),
           (6.0, -11.37), (6.3, -11.32), (6.6, -11.38), (7.0, -11.34), (7.7, -11.25), (8.3, -11.34),
           (9.0, -11.36), (10, -11.4), (11, -11.34), (11.5, -11.28), (12, -11.31), (15, -11.25),
           (20, -11.18), (25, -11.2), (30, -11.23), (40, -11.28), (55, -11.37), (70, -11.45),
           (100, -11.6), (150, -11.83), (200, -12.0)]
P13_STELLAR = [(0.1, -12.15), (0.15, -12.15), (0.2, -12.17), (0.25, -12.3), (0.3, -12.04), (0.35, -11.72),
               (0.4, -11.58), (0.5, -11.49), (0.7, -11.41), (1.0, -11.42), (1.5, -11.49), (1.8, -11.55),
               (2.0, -11.61), (2.2, -11.71), (2.4, -11.86), (2.6, -11.97), (3.0, -12.06), (3.5, -12.23),
               (4.0, -12.34), (5.0, -12.49), (6.0, -12.69), (7.0, -12.8), (8.0, -12.92), (10, -13.2),
               (13, -13.7), (15, -14.0), (16, -14.2)]
P13_SF = [(4.6, -13.0), (4.7, -12.86), (5.0, -12.92), (5.5, -12.8), (5.8, -12.75), (6.0, -12.41),
          (6.3, -11.94), (6.6, -12.17), (7.0, -12.14), (7.5, -11.83), (8.0, -12.06), (9.0, -12.2),
          (10, -12.14), (11, -11.97), (11.5, -11.77), (12, -11.91), (13, -11.86), (14, -11.71),
          (15, -11.77), (20, -11.6), (25, -11.55), (30, -11.47), (35, -11.4), (40, -11.38),
          (55, -11.38), (70, -11.46), (100, -11.61), (150, -11.84), (200, -12.01)]
P13_AGN = [(0.48, -14.0), (0.7, -13.78), (1.0, -13.49), (1.3, -13.09), (1.6, -12.63), (2.0, -12.23),
           (3.0, -11.77), (4.0, -11.57), (5.0, -11.48), (7.5, -11.4), (10, -11.6), (12, -11.45),
           (15, -11.4), (20, -11.4), (25, -11.45), (35, -11.71), (50, -12.17), (70, -12.75),
           (100, -13.32), (130, -13.84), (140, -14.0), (160, -14.3)]
P13_PHOT = [(0.325, -11.87, 0.03, 0.08), (0.41, -11.66, 0.03, 0.08), (0.53, -11.54, 0.04, 0.08),
            (0.67, -11.43, 0.04, 0.08), (0.77, -11.41, 0.04, 0.08), (1.01, -11.43, 0.05, 0.08),
            (1.25, -11.45, 0.05, 0.08), (1.54, -11.5, 0.06, 0.1), (1.98, -11.57, 0.06, 0.08),
            (3.17, -11.6, 0.08, 0.08), (4.0, -11.55, 0.08, 0.08), (11.1, -11.45, 0.15, 0.08),
            (19.6, -11.15, 0.07, 0.08)]

# --- 14 --------------------------------------------------------------------
P14_SUM = [(0.1, -13.38), (0.12, -13.39), (0.15, -13.44), (0.18, -13.55), (0.2, -13.58), (0.22, -13.52),
           (0.25, -13.46), (0.3, -13.38), (0.35, -13.32), (0.4, -13.29), (0.5, -13.26), (0.6, -13.21),
           (0.7, -13.12), (0.8, -13.01), (1.0, -12.83), (1.3, -12.63), (1.6, -12.49), (2.0, -12.4),
           (2.5, -12.34), (3.0, -12.32), (3.5, -12.29), (4.0, -12.23), (5.0, -12.14), (6.0, -12.06),
           (6.3, -11.83), (6.6, -11.97), (7.0, -12.06), (7.7, -11.83), (8.2, -11.99), (8.7, -11.91),
           (9.5, -12.06), (10, -12.0), (11, -11.91), (11.5, -11.83), (12, -11.9), (15, -11.83),
           (20, -11.77), (25, -11.71), (30, -11.65), (35, -11.58), (38, -11.6), (50, -11.6),
           (70, -11.68), (100, -11.86), (150, -12.11), (200, -12.4)]
P14_STELLAR = [(0.1, -13.72), (0.105, -13.84), (0.11, -13.67), (0.115, -13.9), (0.12, -13.79), (0.13, -13.93),
               (0.14, -13.84), (0.15, -13.9), (0.17, -13.99), (0.2, -14.05), (0.22, -13.97), (0.25, -14.01),
               (0.27, -13.94), (0.29, -13.84), (0.3, -13.79), (0.32, -13.67), (0.35, -13.55), (0.4, -13.51),
               (0.5, -13.5), (0.6, -13.52), (0.7, -13.55), (0.8, -13.58), (1.0, -13.61), (1.2, -13.64),
               (1.5, -13.7), (1.7, -13.79), (2.0, -13.9), (2.2, -14.0), (2.4, -14.2)]
P14_SF = [(4.5, -13.26), (4.6, -13.09), (5.0, -13.14), (5.5, -13.09), (6.0, -12.98), (6.3, -12.29),
          (6.6, -12.52), (7.0, -12.46), (7.7, -12.17), (8.3, -12.46), (9.0, -12.63), (10, -12.75),
          (11, -12.52), (11.5, -12.23), (12, -12.37), (13, -12.32), (14, -12.2), (15, -12.34),
          (20, -12.17), (25, -12.0), (30, -11.8), (35, -11.65), (38, -11.63), (50, -11.62),
          (70, -11.7), (100, -11.87), (150, -12.12), (200, -12.41)]
P14_AGN = [(0.1, -13.66), (0.12, -13.63), (0.15, -13.72), (0.2, -13.84), (0.25, -13.74), (0.3, -13.77),
           (0.4, -13.75), (0.5, -13.76), (0.6, -13.75), (0.8, -13.32), (1.0, -12.87), (1.3, -12.64),
           (1.6, -12.5), (2.0, -12.41), (3.0, -12.33), (4.0, -12.29), (5.0, -12.25), (7.5, -12.21),
           (10, -12.24), (15, -12.24), (20, -12.26), (25, -12.34), (30, -12.48), (40, -12.75),
           (55, -13.09), (70, -13.44), (90, -13.9), (100, -14.0), (110, -14.3)]
P14_PHOT = [(0.24, -13.35, 0.03, 0.3), (0.29, -13.59, 0.03, 0.15), (0.385, -13.43, 0.03, 0.1),
            (0.58, -13.23, 0.03, 0.15), (2.16, -12.6, 0.06, 0.08), (3.0, -12.4, 0.07, 0.08),
            (7.3, -12.15, 0.2, 0.08), (14.2, -11.99, 0.08, 0.08)]

# --- 15 --------------------------------------------------------------------
P15_SUM = [(0.1, -13.84), (0.105, -13.67), (0.11, -13.72), (0.12, -13.61), (0.13, -13.7), (0.14, -13.61),
           (0.15, -13.67), (0.17, -13.55), (0.2, -13.49), (0.22, -13.38), (0.24, -13.55), (0.25, -13.32),
           (0.26, -13.44), (0.28, -13.21), (0.3, -13.0), (0.33, -12.8), (0.35, -12.63), (0.37, -12.57),
           (0.4, -12.34), (0.45, -12.26), (0.5, -12.17), (0.6, -12.14), (0.8, -12.11), (1.0, -12.09),
           (1.3, -12.11), (1.6, -12.14), (2.0, -12.2), (2.5, -12.29), (3.0, -12.36), (3.3, -12.29),
           (4.0, -12.14), (5.0, -12.03), (6.0, -11.91), (7.5, -11.86), (9.0, -11.93), (10, -11.97),
           (11, -11.89), (15, -11.86), (20, -11.83), (25, -11.89), (30, -12.0), (40, -12.29),
           (55, -12.75), (70, -13.2), (90, -13.61), (110, -14.0), (120, -14.3)]
P15_STELLAR = [(0.1, -13.85), (0.15, -13.68), (0.2, -13.5), (0.25, -13.33), (0.3, -13.01), (0.35, -12.64),
               (0.4, -12.35), (0.5, -12.18), (0.8, -12.12), (1.0, -12.1), (1.3, -12.12), (1.6, -12.15),
               (2.0, -12.25), (2.5, -12.45), (3.0, -12.69), (4.0, -12.98), (6.0, -13.38), (9.8, -14.0),
               (11, -14.2)]
P15_SF = []
P15_AGN = [(0.96, -14.0), (1.3, -13.49), (1.6, -13.09), (2.0, -12.75), (2.5, -12.45), (3.0, -12.3),
           (4.0, -12.08), (5.0, -11.94), (6.0, -11.9), (7.5, -11.86), (9.0, -11.93), (10, -11.97),
           (11, -11.89), (15, -11.86), (20, -11.83), (25, -11.89), (30, -12.0), (40, -12.29),
           (55, -12.75), (70, -13.2), (90, -13.61), (110, -14.0)]
P15_PHOT = [(0.29, -13.07, 0.03, 0.3), (0.39, -12.34, 0.03, 0.1), (0.56, -12.14, 0.04, 0.08),
            (0.77, -12.11, 0.04, 0.08), (1.05, -12.0, 0.05, 0.1), (1.38, -12.14, 0.03, 10.0),
            (1.8, -12.29, 0.05, 0.2), (2.85, -12.2, 0.08, 0.1), (3.9, -12.06, 0.08, 0.08),
            (10.1, -12.03, 0.15, 0.08), (19, -11.78, 0.08, 0.08)]

# ---------------------------------------------------------------------------
SUM_C, STELLAR_C, SF_C, AGN_C = "#333333", "#33dd33", "#dd1a1a", "#2323c0"
PANEL_BG = "#ececec"

PANELS = [
    (P1_SUM, P1_STELLAR, P1_SF, P1_AGN, P1_PHOT), (P2_SUM, P2_STELLAR, P2_SF, P2_AGN, P2_PHOT),
    (P3_SUM, P3_STELLAR, P3_SF, P3_AGN, P3_PHOT), (P4_SUM, P4_STELLAR, P4_SF, P4_AGN, P4_PHOT),
    (P5_SUM, P5_STELLAR, P5_SF, P5_AGN, P5_PHOT), (P6_SUM, P6_STELLAR, P6_SF, P6_AGN, P6_PHOT),
    (P7_SUM, P7_STELLAR, P7_SF, P7_AGN, P7_PHOT), (P8_SUM, P8_STELLAR, P8_SF, P8_AGN, P8_PHOT),
    (P9_SUM, P9_STELLAR, P9_SF, P9_AGN, P9_PHOT), (P10_SUM, P10_STELLAR, P10_SF, P10_AGN, P10_PHOT),
    (P11_SUM, P11_STELLAR, P11_SF, P11_AGN, P11_PHOT), (P12_SUM, P12_STELLAR, P12_SF, P12_AGN, P12_PHOT),
    (P13_SUM, P13_STELLAR, P13_SF, P13_AGN, P13_PHOT), (P14_SUM, P14_STELLAR, P14_SF, P14_AGN, P14_PHOT),
    (P15_SUM, P15_STELLAR, P15_SF, P15_AGN, P15_PHOT),
]


def draw_curve(ax, pts, color, lw, z):
    if not pts:
        return
    df = pd.DataFrame(pts, columns=["wl", "logf"])
    df["flux"] = 10.0 ** df["logf"]
    sns.lineplot(data=df, x="wl", y="flux", ax=ax, color=color, lw=lw, sort=False,
                 estimator=None, legend=False, zorder=z)


def draw_photometry(ax, pts):
    df = pd.DataFrame(pts, columns=["wl", "logf", "xrel", "yrel"])
    flux = 10.0 ** df["logf"]
    xerr = df["wl"] * df["xrel"]
    yhi = flux * df["yrel"]
    ylo = np.minimum(flux * df["yrel"], flux * 0.999999)
    ax.errorbar(df["wl"], flux, xerr=xerr, yerr=[ylo, yhi], fmt="none", ecolor="black",
                elinewidth=1.0, capsize=2.5, capthick=1.0, zorder=5)
    sns.scatterplot(x=df["wl"], y=flux, ax=ax, color="black", s=18, marker="o",
                    edgecolor="black", linewidth=0.5, legend=False, zorder=6)


W, H = 1295, 1593
fig = plt.figure(figsize=(W / 100, H / 100), dpi=100)
fig.patch.set_facecolor("white")

COL_X0 = [3, 432, 857]
COL_W = [421, 421, 435]
ROW_H = 318

x_minor = [m * 10.0 ** e for e in (-1, 0, 1, 2) for m in range(2, 10)]
x_minor = [v for v in x_minor if v not in XTICKS and v <= 200]

legend_handles = [
    Line2D([], [], marker="o", ls="none", color="black", ms=3.5),
    Line2D([], [], color=SUM_C, lw=1.2),
    Line2D([], [], color=STELLAR_C, lw=1.2),
    Line2D([], [], color=SF_C, lw=1.2),
    Line2D([], [], color=AGN_C, lw=1.2),
]

for i, (sum_c, stel, sf, agn, phot) in enumerate(PANELS):
    r, c = divmod(i, 3)
    x0, pw = COL_X0[c], COL_W[c]
    y0 = r * ROW_H

    fig.add_artist(Rectangle((x0 / W, 1 - (y0 + 316) / H), pw / W, 314 / H,
                             transform=fig.transFigure, facecolor=PANEL_BG,
                             edgecolor="none", zorder=-5))

    ax = fig.add_axes([(x0 + 63) / W, 1 - (y0 + 256) / H, 348 / W, 232 / H])
    ax.set_facecolor("white")

    draw_curve(ax, stel, STELLAR_C, 1.3, 2)
    draw_curve(ax, sf, SF_C, 1.2, 2)
    draw_curve(ax, agn, AGN_C, 1.2, 2)
    draw_curve(ax, sum_c, SUM_C, 1.3, 3)
    draw_photometry(ax, phot)

    ax.set_xscale("log")
    ax.set_yscale("log")
    ax.set_xlim(0.1, 200)
    ax.set_ylim(1e-14, 1e-10)

    ax.xaxis.set_major_locator(FixedLocator(XTICKS))
    ax.xaxis.set_major_formatter(FixedFormatter(XTICK_LABELS))
    ax.xaxis.set_minor_locator(FixedLocator(x_minor))
    ax.xaxis.set_minor_formatter(NullFormatter())
    ax.yaxis.set_major_locator(FixedLocator(YTICKS))
    ax.yaxis.set_major_formatter(FixedFormatter(YTICK_LABELS))
    ax.yaxis.set_minor_locator(LogLocator(base=10, subs=np.arange(2, 10)))
    ax.yaxis.set_minor_formatter(NullFormatter())

    ax.grid(True, which="major", color="#bdbdbd", linestyle=(0, (3, 2)), lw=0.6)
    ax.grid(True, which="minor", color="#d6d6d6", linestyle=(0, (3, 2)), lw=0.5)
    ax.set_axisbelow(True)
    ax.tick_params(axis="both", which="major", direction="in", length=3, color="#999999",
                   labelsize=9, labelcolor="#222222")
    ax.tick_params(axis="x", which="major", pad=3)
    ax.tick_params(axis="y", which="major", pad=4.5)
    ax.tick_params(axis="both", which="minor", direction="in", length=2, color="#aaaaaa")
    ax.tick_params(axis="x", which="both", bottom=False)
    for sp in ax.spines.values():
        sp.set_color("#a8a8a8")
        sp.set_linewidth(1.0)

    ax.set_xlabel("rest-frame wavelength (um)", fontsize=9.5, color="#222222")
    ax.xaxis.set_label_coords(0.5, -0.085)
    ax.set_ylabel("vfv (erg/s/cm2)", fontsize=9, color="#222222", va="center")
    ax.yaxis.set_label_coords(-0.127, 0.5)

    # clip tick labels to the panel tile
    clip = TransformedBbox(Bbox.from_extents(x0 / W, 1 - (y0 + 316) / H,
                                             (x0 + pw) / W, 1 - y0 / H), fig.transFigure)
    for tk in ax.xaxis.get_major_ticks():
        tk.label1.set_clip_box(clip)
        tk.label1.set_clip_on(True)

    cx = x0 + pw / 2
    fig.text(cx / W, 1 - (y0 + 11) / H, f"{PANEL_IDS[i]} - z={REDSHIFTS[i]}",
             ha="center", va="center", fontsize=10.5, color="#222222")

    leg = ax.legend(legend_handles, LEGEND_LABELS, loc="center",
                    bbox_to_anchor=(cx / W, 1 - (y0 + 307) / H), bbox_transform=fig.transFigure,
                    ncol=5, fontsize=9, frameon=True, fancybox=False, framealpha=1,
                    edgecolor="black", facecolor="white", handlelength=1.5,
                    handletextpad=0.35, columnspacing=0.5, borderpad=0.25, borderaxespad=0)
    leg.get_frame().set_linewidth(1.2)

fig.savefig("out.png", dpi=100, facecolor="white")
